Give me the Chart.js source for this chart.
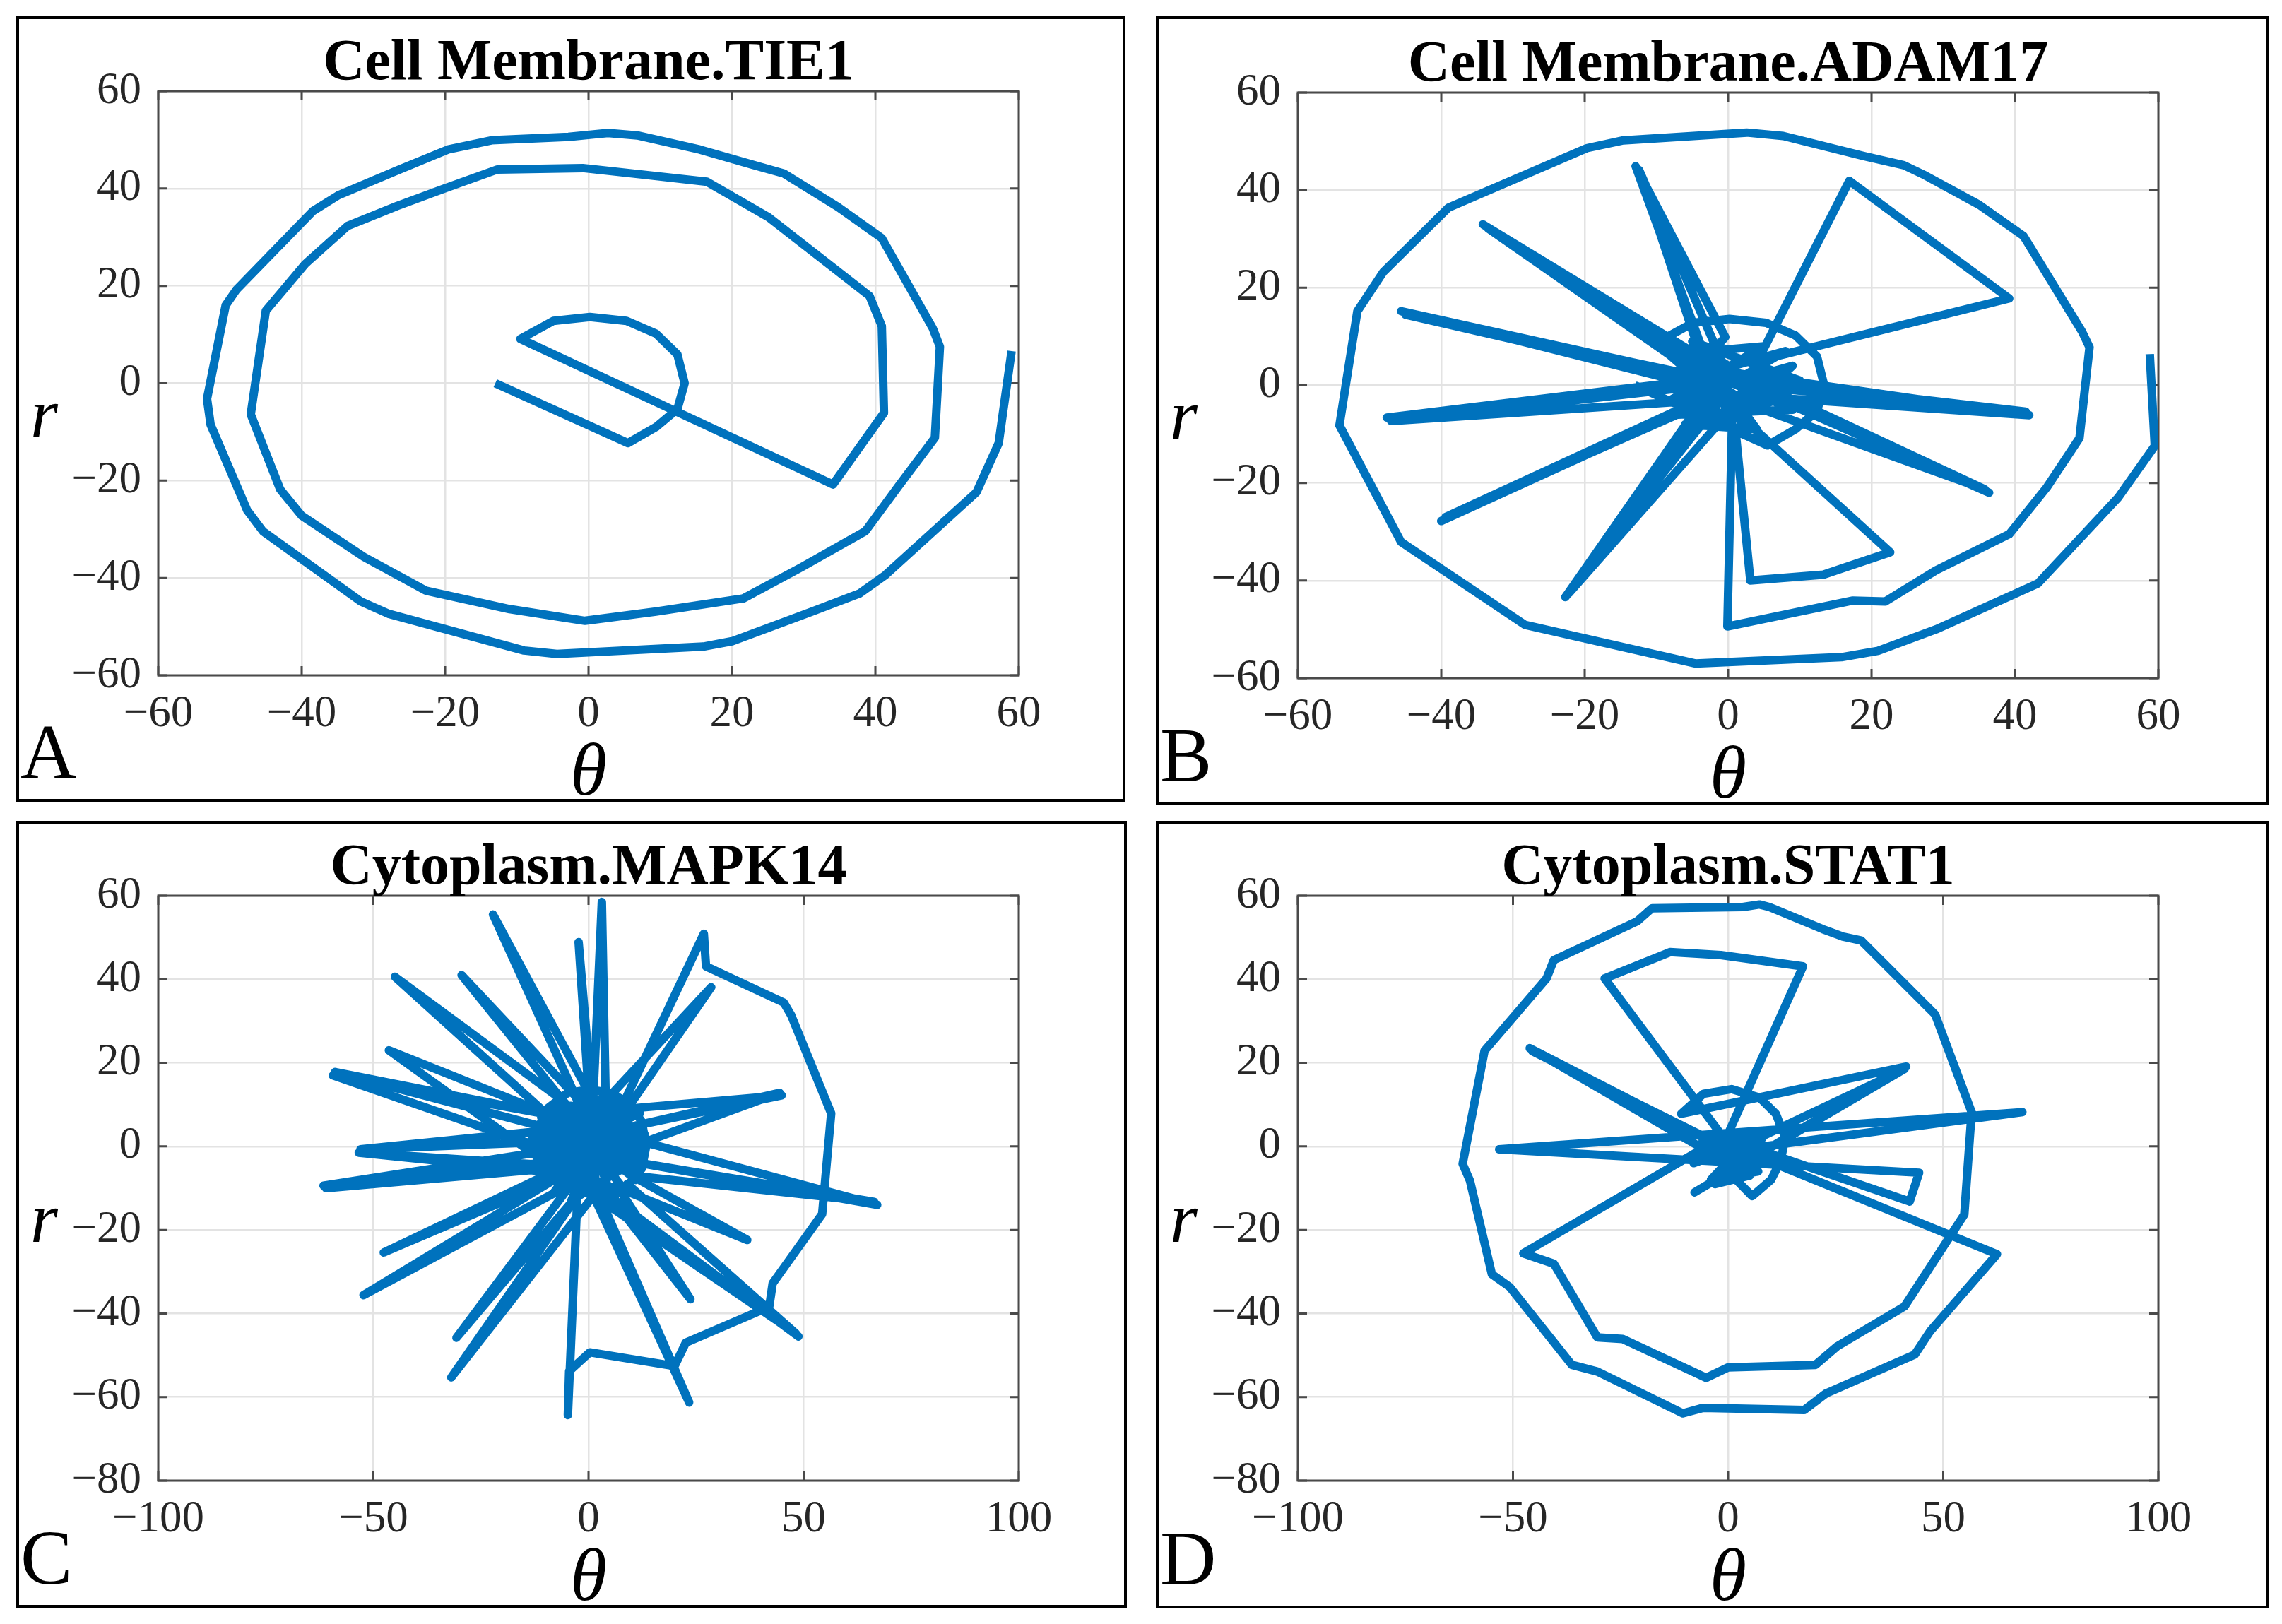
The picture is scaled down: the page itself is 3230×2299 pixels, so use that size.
<!DOCTYPE html>
<html>
<head>
<meta charset="utf-8">
<script src="https://cdn.jsdelivr.net/npm/chart.js@4.4.1/dist/chart.umd.min.js"></script>
<style>
  html, body { margin: 0; padding: 0; background: #fff; }
  body { position: relative; width: 3230px; height: 2299px; overflow: hidden; font-family: 'Liberation Serif', 'Times New Roman', serif; }
  .panel { position: absolute; }
  .panel canvas { position: absolute; left: 0; top: 0; }
  .frame { position: absolute; left: 0; top: 0; right: 0; bottom: 0; border: 4px solid #000; box-sizing: border-box; pointer-events: none; }
  .ttl { position: absolute; font-weight: bold; font-size: 82px; line-height: 82px; text-align: center; white-space: nowrap; color: #000; }
  .th { position: absolute; font-style: italic; font-size: 106px; line-height: 106px; text-align: center; color: #000; }
  .rl { position: absolute; font-style: italic; font-size: 100px; line-height: 100px; color: #000; }
  .letter { position: absolute; font-size: 110px; line-height: 110px; color: #000; }
</style>
</head>
<body>
<script>
// tick values
const ticksAB = [-60, -40, -20, 0, 20, 40, 60];
const xTicksCD = [-100, -50, 0, 50, 100];
const yTicksCD = [-80, -60, -40, -20, 0, 20, 40, 60];

const titles = ['Cell Membrane.TIE1', 'Cell Membrane.ADAM17', 'Cytoplasm.MAPK14', 'Cytoplasm.STAT1'];
const letters = ['A', 'B', 'C', 'D'];

// A: Cell Membrane.TIE1
const thetaA = [-13.0, 5.5, 9.4, 12.4, 13.4, 12.4, 9.4, 5.3, 0.2, -4.9, -9.5,
  34.1, 41.2, 40.9, 39.2, 25.1, 16.5, 7.3, -0.8, -12.7, -20.1, -26.7, -33.6, -39.5, -45.0,
  -47.1, -43.0, -40.0, -31.3, -22.7, -11.0, -0.5, 9.4, 21.6, 29.7, 38.6, 43.4, 48.3, 49.0, 48.0,
  40.9, 34.8, 27.2, 22.6, 15.5, 6.8, 2.7, -2.8, -13.5, -19.6, -26.7, -34.9, -38.4, -49.1, -50.6,
  -53.2, -52.7, -47.6, -45.4, -31.8, -27.8, -9.0, -4.4, 16.0, 20.0, 31.2, 37.8, 41.4, 54.1, 57.2, 59.0];
const rA = [0.0, -12.3, -9.0, -5.3, 0.0, 5.9, 10.2, 12.8, 13.6, 12.8, 9.1,
  -20.8, -6.1, 11.7, 17.9, 34.1, 41.4, 42.9, 44.2, 43.9, 40.0, 36.4, 32.3, 24.5, 14.9,
  -6.4, -21.8, -27.2, -35.7, -42.6, -46.4, -48.8, -46.9, -44.2, -37.8, -30.4, -20.8, -11.2, 7.5, 11.3,
  29.8, 36.2, 43.1, 45.0, 48.0, 50.9, 51.4, 50.6, 49.9, 48.0, 43.7, 38.6, 35.4, 19.2, 16.0,
  -3.2, -8.5, -26.1, -30.4, -44.8, -47.4, -54.9, -55.6, -54.1, -53.0, -46.9, -43.2, -39.4, -22.4, -12.3, 6.6];

// B: Cell Membrane.ADAM17
const thetaB = [-13.0, 5.5, 9.4, 12.4, 13.4, 12.4, 9.4, 5.3, 0.2, -4.9, -9.5,
  36.4, -2.0, -34.2, -4.0, 35.8, 3.0, -33.5, -6.0, 42.0, 1.0, -45.6, -8.0, 41.5, 2.0,
  -45.0, -5.0, -47.6, 3.0, -47.0, -3.0, -40.0, -1.0, -39.4, -4.0, -22.7, -1.0, -12.9, -0.4,
  -3.5, -12.4, 0.0, -22.2, 1.0, 16.9, 39.2, 5.7, 1.1, 3.1, 13.3, 22.6, 4.7,
  -8, 9, -7, 8, -9, 10, -5, 4, -6, 7, -3, 5, -8, 9, 0, -2,
  0.6, -0.1,
  17.4, 21.9, 29.0, 39.2, 44.4, 49.0, 50.4, 49.4, 41.2, 35.0, 27.5, 24.5, 18.9, 7.7, 2.6,
  -14.6, -19.7, -39.0, -48.1, -51.7, -54.2, -45.6, -28.3, -4.5, 15.8, 20.9, 29.0, 43.2, 54.4, 59.5, 58.8];
const rB = [0.0, -12.3, -9.0, -5.3, 0.0, 5.9, 10.2, 12.8, 13.6, 12.8, 9.1,
  -22.0, 3.0, 33.0, 6.0, -21.3, -4.0, 32.2, 4.0, -6.1, -2.0, 15.2, 3.0, -5.4, 0.0,
  14.5, 1.0, -6.6, 1.0, -7.3, -3.0, -27.8, -1.0, -27.0, -4.0, -43.4, -3.0, 44.9, 9.9,
  4.6, 44.1, 2.0, -42.6, -4.0, 41.9, 17.8, 5.6, -10.3, -40.0, -38.8, -34.2, -10.3,
  6, -5, -6, 7, 0, 1, 9, -9, -8, -3, 7, 8, -3, 4, -8, 9,
  -4.0, -49.4,
  -44.1, -44.3, -37.9, -30.5, -21.0, -10.8, 7.8, 10.9, 30.6, 37.0, 43.0, 45.1, 47.0, 51.1, 51.8,
  50.2, 48.6, 36.4, 23.2, 15.2, -8.2, -32.1, -49.1, -57.0, -55.7, -54.4, -50.0, -40.6, -23.0, -12.4, 6.4];

// C: Cytoplasm.MAPK14
const thetaC = [-13.0, 5.5, 9.4, 12.4, 13.4, 12.4, 9.4, 5.3, 0.2, -4.9, -9.5,
  -12, -53.0, -8, -58.9, -6, -59.4, -9, -61.6, -11, -61.0,
  -6, -47.6, -8, -52.3, -4, -30.7, -2, -31.9, 1, -46.4,
  -10, -45.0, -6, -29.5, -3, -22.2, 0, -2.3, 1, 3.1,
  4, 28.5, 9, 44.9, 11, 44.4, 13, 67.1, 12, 66.4,
  10, 36.9, 7, 23.7, 5, 48.8, 9, 48.2, 3, 23.4,
  -1, -53.4, 12, -11, 8, -7, 13, -12, 2, 26.8,
  27.3, 45.4, 47.1, 56.4, 54.3, 42.8, 42.0, 22.6, 20.0, 0.3,
  -4.5, -4.8, -2,
  12, -11, 6, -4, 13, -12, 3, -6, 11, -9, 9, -13, 5, -3, 13,
  -10, 8, -7, 12, -12, 0, 2, -11, 10, 7, -8, 13, -13, 4, -2];
const rC = [0.0, -12.3, -9.0, -5.3, 0.0, 5.9, 10.2, 12.8, 13.6, 12.8, 9.1,
  1, -0.7, 4, 17.8, 7, 17.0, -1, -9.4, -4, -10.0,
  -5, -25.4, -8, -35.6, -9, -45.8, -11, -55.3, -12, 23.0,
  8, 40.6, 11, 41.0, 12, 55.5, 13, 48.9, 9, 58.5,
  11, 38.1, 9, 12.2, 5, 12.8, 1, -14.0, -4, -13.3,
  -7, -22.4, -10, -36.6, -12, -45.5, -9, -44.8, -13, -61.3,
  -7, -1.5, -6, 6, 10, -10, 3, -3, -3, 50.9,
  43.1, 34.4, 31.4, 7.9, -16.2, -32.8, -38.4, -47.0, -52.6, -49.3,
  -53.8, -64.3, 2,
  5, -6, 12, -13, -2, 4, -12, 11, -8, 9, 10, -1, -11, 12, 3,
  -8, -10, 10, 8, -4, 13, -13, 7, -6, 11, -11, 0, 2, 12, -12];

// D: Cytoplasm.STAT1
const thetaD = [-0.5, 5.6, 10.0, 12.2, 13.3, 11.1, 7.3, 0.8, -5.7, -10.9,
  41.4, -7.8, 41.0, 3.0,
  -8, 8, -6, 7, -4, 6, -8, 9, -3, 5,
  -46.1, 4.0, -45.5, 1.0, 68.4, -53.2,
  44.4, 42.2, -1.0, -28.7, -13.5, -1.7, 17.4, 0.0, -47.6, -40.5,
  -30.4, -24.5, -5.1, 0.0, 20.3, 25.3, 41.0, 54.9, 56.6, 48.1,
  30.9, 26.7, 22.0, 9.6, 7.3, 3.4, -17.7, -21.1, -40.5, -42.2,
  -56.6, -61.7, -60.0, -54.9, -50.7, -36.3, -30.4, -10.5, -5.9, 17.7,
  22.8, 43.4, 47.0, 62.5, 1.0];
const rD = [-5.5, -11.9, -8.0, -3.5, 2.1, 7.8, 11.7, 13.7, 12.6, 7.8,
  19.1, -11.0, 18.5, 0.0,
  -4, 2, 1, -6, -8, 3, -2, -3, -9, -7,
  23.5, -3.0, 22.8, -1.0, 8.2, -0.7,
  -6.3, -13.2, 2.0, 40.2, 46.5, 45.8, 43.1, 3.0, -25.6, -28.1,
  -45.7, -46.1, -55.4, -52.9, -52.3, -47.9, -38.3, -16.3, 8.2, 31.6,
  49.3, 50.2, 52.0, 57.3, 57.9, 57.3, 57.0, 53.9, 44.6, 40.2,
  22.9, -4.2, -8.2, -30.6, -33.7, -52.3, -53.9, -63.9, -62.6, -63.1,
  -59.1, -49.8, -44.2, -25.8, 0.0];

// panel boxes [left, top, width, height] and plot areas [left, top, right, bottom] inside them
const panels = [
  { box: [23, 23, 1570, 1112], plot: [201, 106, 1419, 933], theta: thetaA, r: rA, xt: ticksAB, yt: ticksAB },
  { box: [1636, 23, 1576, 1117], plot: [201, 108, 1419, 937], theta: thetaB, r: rB, xt: ticksAB, yt: ticksAB },
  { box: [23, 1162, 1572, 1114], plot: [201, 106, 1419, 934], theta: thetaC, r: rC, xt: xTicksCD, yt: yTicksCD },
  { box: [1636, 1162, 1576, 1115], plot: [201, 106, 1419, 934], theta: thetaD, r: rD, xt: xTicksCD, yt: yTicksCD }
];

const serif = "'Liberation Serif', 'Times New Roman', Times, serif";
Chart.defaults.font.family = serif;

const fmt = v => (v < 0 ? '\u2212' + (-v) : String(v));

// matlab style box with inward ticks
const boxPlugin = {
  id: 'matlabBox',
  beforeDatasetsDraw(chart) {
    const { ctx, chartArea: a, scales: { x, y } } = chart;
    ctx.save();
    ctx.strokeStyle = '#4a4a4a';
    ctx.lineWidth = 3;
    ctx.strokeRect(a.left, a.top, a.right - a.left, a.bottom - a.top);
    const len = 13;
    ctx.beginPath();
    x.ticks.forEach(t => {
      const px = x.getPixelForValue(t.value);
      ctx.moveTo(px, a.bottom); ctx.lineTo(px, a.bottom - len);
      ctx.moveTo(px, a.top); ctx.lineTo(px, a.top + len);
    });
    y.ticks.forEach(t => {
      const py = y.getPixelForValue(t.value);
      ctx.moveTo(a.left, py); ctx.lineTo(a.left + len, py);
      ctx.moveTo(a.right, py); ctx.lineTo(a.right - len, py);
    });
    ctx.stroke();
    ctx.restore();
  }
};

function axis(ticks, isX) {
  return {
    type: 'linear',
    min: ticks[0],
    max: ticks[ticks.length - 1],
    afterBuildTicks: s => { s.ticks = ticks.map(v => ({ value: v })); },
    afterFit: s => {
      if (isX) { s.height = 100; s.paddingLeft = 0; s.paddingRight = 0; }
      else { s.width = 150; s.paddingTop = 0; s.paddingBottom = 0; }
    },
    grid: { color: '#e3e3e3', lineWidth: 2.5, drawTicks: false },
    border: { display: false },
    ticks: {
      padding: isX ? 18 : 24,
      color: '#262626',
      font: { family: serif, size: 63, weight: 'normal' },
      autoSkip: false,
      maxRotation: 0,
      callback: fmt
    }
  };
}

panels.forEach((p, i) => {
  const [bx, by, w, h] = p.box;
  const [pl, pt, pr, pb] = p.plot;
  const div = document.createElement('div');
  div.className = 'panel';
  Object.assign(div.style, { left: bx + 'px', top: by + 'px', width: w + 'px', height: h + 'px' });
  const cv = document.createElement('canvas');
  cv.width = w; cv.height = h;
  div.appendChild(cv);

  const t = document.createElement('div');
  t.className = 'ttl'; t.textContent = titles[i];
  Object.assign(t.style, { left: pl + 'px', width: (pr - pl) + 'px', top: (pt - 85) + 'px' });
  div.appendChild(t);

  const th = document.createElement('div');
  th.className = 'th'; th.textContent = '\u03b8';
  Object.assign(th.style, { left: pl + 'px', width: (pr - pl) + 'px', top: (pb + 81) + 'px' });
  div.appendChild(th);

  const rl = document.createElement('div');
  rl.className = 'rl'; rl.textContent = 'r';
  Object.assign(rl.style, { left: '20px', top: (pt + 407) + 'px' });
  div.appendChild(rl);

  const lt = document.createElement('div');
  lt.className = 'letter'; lt.textContent = letters[i];
  Object.assign(lt.style, { left: '6px', top: (h - 126) + 'px' });
  div.appendChild(lt);

  const fr = document.createElement('div');
  fr.className = 'frame';
  div.appendChild(fr);
  document.body.appendChild(div);

  const pts = p.theta.map((v, k) => ({ x: v, y: p.r[k] }));

  new Chart(cv.getContext('2d'), {
    type: 'scatter',
    data: {
      datasets: [{
        data: pts,
        showLine: true,
        borderColor: '#0072BD',
        borderWidth: 12,
        pointRadius: 0,
        pointHoverRadius: 0,
        borderJoinStyle: 'round',
        tension: 0,
        fill: false
      }]
    },
    options: {
      responsive: false,
      animation: false,
      layout: { padding: { left: pl - 150, top: pt, right: w - pr, bottom: h - pb - 100 } },
      plugins: { legend: { display: false }, tooltip: { enabled: false }, title: { display: false } },
      scales: { x: axis(p.xt, true), y: axis(p.yt, false) }
    },
    plugins: [boxPlugin]
  });
});
</script>
</body>
</html>
